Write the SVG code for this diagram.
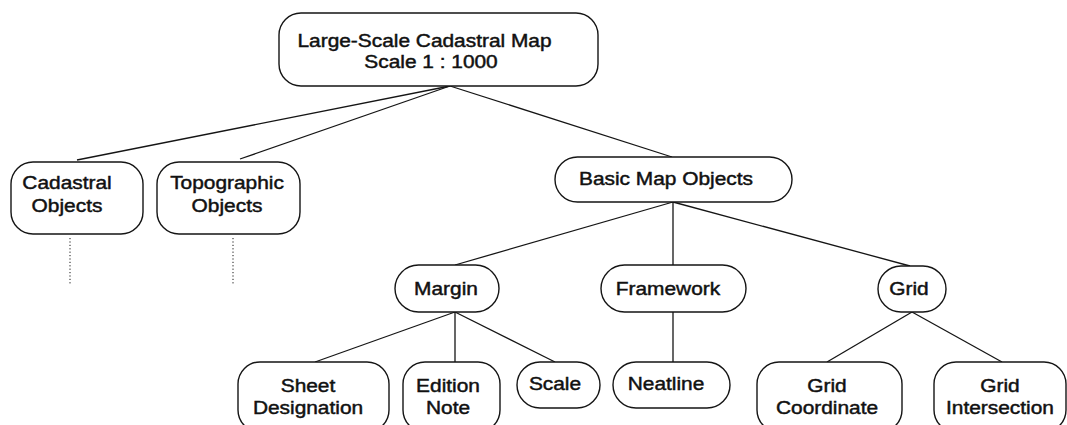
<svg xmlns="http://www.w3.org/2000/svg" width="1067" height="425" viewBox="0 0 1067 425">
  <style>
    .box { fill: #ffffff; stroke: #151515; stroke-width: 1.4; }
    .edge { fill: none; stroke: #151515; stroke-width: 1.3; }
    .dots { fill: none; stroke: #151515; stroke-width: 1; stroke-dasharray: 1.2 2.2; }
    .lbl { font-family: "Liberation Sans", Arial, Helvetica, sans-serif; font-size: 18px; fill: #111111; stroke: #111111; stroke-width: 0.45; text-anchor: middle; }
  </style>
  <rect width="1067" height="425" fill="#ffffff"/>

  <!-- tree edges -->
  <g id="connectors">
    <line class="edge" x1="450" y1="86" x2="77" y2="160"/>
    <line class="edge" x1="450" y1="86" x2="240" y2="159"/>
    <line class="edge" x1="450" y1="86" x2="672" y2="157"/>
    <line class="edge" x1="673" y1="202" x2="455" y2="265"/>
    <line class="edge" x1="673" y1="202" x2="673" y2="265"/>
    <line class="edge" x1="673" y1="202" x2="910" y2="266"/>
    <line class="edge" x1="455" y1="312" x2="315" y2="362"/>
    <line class="edge" x1="455" y1="312" x2="455" y2="362"/>
    <line class="edge" x1="455" y1="312" x2="555" y2="362"/>
    <line class="edge" x1="673" y1="312" x2="673" y2="362"/>
    <line class="edge" x1="912" y1="312" x2="827" y2="362"/>
    <line class="edge" x1="912" y1="312" x2="1002" y2="362"/>
    <line class="dots" x1="70" y1="238" x2="70" y2="285"/>
    <line class="dots" x1="233" y1="238" x2="233" y2="285"/>
  </g>

  <g id="large-scale-map">
    <rect class="box" x="279" y="13" width="319" height="73" rx="22"/>
    <text class="lbl" transform="translate(424.5 47) scale(1.16 1)">Large-Scale Cadastral Map</text>
    <text class="lbl" transform="translate(431 68) scale(1.16 1)">Scale 1 : 1000</text>
  </g>

  <g id="cadastral-objects">
    <rect class="box" x="11" y="162" width="132" height="72" rx="22"/>
    <text class="lbl" transform="translate(67 189) scale(1.16 1)">Cadastral</text>
    <text class="lbl" transform="translate(67 212) scale(1.16 1)">Objects</text>
  </g>

  <g id="topographic-objects">
    <rect class="box" x="157" y="162" width="143" height="72" rx="22"/>
    <text class="lbl" transform="translate(227 189) scale(1.16 1)">Topographic</text>
    <text class="lbl" transform="translate(227 212) scale(1.16 1)">Objects</text>
  </g>

  <g id="basic-map-objects">
    <rect class="box" x="555" y="157" width="237" height="45" rx="22.5"/>
    <text class="lbl" transform="translate(666 185) scale(1.16 1)">Basic Map Objects</text>
  </g>

  <g id="margin">
    <rect class="box" x="395" y="265" width="104" height="47" rx="23.5"/>
    <text class="lbl" transform="translate(446 295) scale(1.16 1)">Margin</text>
  </g>

  <g id="framework">
    <rect class="box" x="601" y="265" width="145" height="47" rx="23.5"/>
    <text class="lbl" transform="translate(668 295) scale(1.16 1)">Framework</text>
  </g>

  <g id="grid">
    <rect class="box" x="878" y="266" width="68" height="46" rx="23"/>
    <text class="lbl" transform="translate(909 295) scale(1.16 1)">Grid</text>
  </g>

  <g id="sheet-designation">
    <rect class="box" x="238" y="362" width="151" height="70" rx="22"/>
    <text class="lbl" transform="translate(308 392) scale(1.16 1)">Sheet</text>
    <text class="lbl" transform="translate(308 414) scale(1.16 1)">Designation</text>
  </g>

  <g id="edition-note">
    <rect class="box" x="403" y="362" width="97" height="70" rx="22"/>
    <text class="lbl" transform="translate(448 392) scale(1.16 1)">Edition</text>
    <text class="lbl" transform="translate(448 414) scale(1.16 1)">Note</text>
  </g>

  <g id="scale">
    <rect class="box" x="517" y="362" width="83" height="46" rx="23"/>
    <text class="lbl" transform="translate(555 390) scale(1.16 1)">Scale</text>
  </g>

  <g id="neatline">
    <rect class="box" x="613" y="362" width="117" height="46" rx="23"/>
    <text class="lbl" transform="translate(666 390) scale(1.16 1)">Neatline</text>
  </g>

  <g id="grid-coordinate">
    <rect class="box" x="757" y="362" width="145" height="70" rx="22"/>
    <text class="lbl" transform="translate(827 392) scale(1.16 1)">Grid</text>
    <text class="lbl" transform="translate(827 414) scale(1.16 1)">Coordinate</text>
  </g>

  <g id="grid-intersection">
    <rect class="box" x="934" y="362" width="132" height="70" rx="22"/>
    <text class="lbl" transform="translate(1000 392) scale(1.16 1)">Grid</text>
    <text class="lbl" transform="translate(1000 414) scale(1.16 1)">Intersection</text>
  </g>
</svg>
